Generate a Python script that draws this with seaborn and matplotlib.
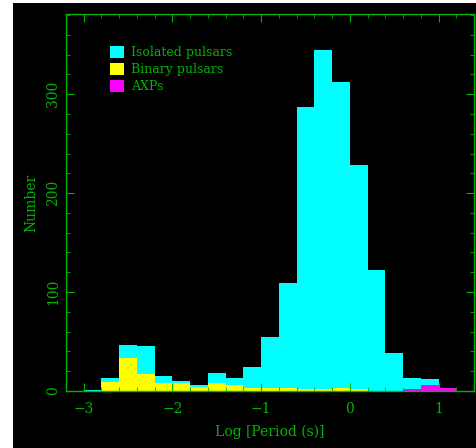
import pandas as pd
import matplotlib
matplotlib.use('Agg')
import matplotlib.pyplot as plt
import seaborn as sns
from matplotlib.patches import Patch, Rectangle
from matplotlib.ticker import MultipleLocator

# histogram counts, bins of 0.2 in log period
bin_edges = [-3.0, -2.8, -2.6, -2.4, -2.2, -2.0, -1.8, -1.6, -1.4, -1.2, -1.0,
             -0.8, -0.6, -0.4, -0.2, 0.0, 0.2, 0.4, 0.6, 0.8, 1.0, 1.2]
bin_centers = [-2.9, -2.7, -2.5, -2.3, -2.1, -1.9, -1.7, -1.5, -1.3, -1.1, -0.9,
               -0.7, -0.5, -0.3, -0.1, 0.1, 0.3, 0.5, 0.7, 0.9, 1.1]
isolated = [1, 4, 13, 28, 7, 2, 2, 10, 7, 21, 52,
            106, 285, 343, 309, 226, 122, 38, 11, 6, 0]
binary = [0, 9, 33, 17, 8, 8, 4, 8, 6, 3, 3,
          3, 2, 2, 3, 2, 0, 0, 0, 0, 0]
axps = [0, 0, 0, 0, 0, 0, 0, 0, 0, 0, 0,
        0, 0, 0, 0, 0, 0, 0, 2, 6, 3]

labels = ['Isolated pulsars', 'Binary pulsars', 'AXPs']
colors = {'Isolated pulsars': '#00ffff', 'Binary pulsars': '#ffff00', 'AXPs': '#ff00ff'}
green = '#00b400'

rows = []
for name, counts in zip(labels, [isolated, binary, axps]):
    for c, n in zip(bin_centers, counts):
        rows.append({'logP': c, 'count': n, 'type': name})
df = pd.DataFrame(rows)

plt.rcParams['font.family'] = ['DejaVu Serif']

fig = plt.figure(figsize=(4.77, 4.48), dpi=100, facecolor='white')
# black plotting page with a thin white margin on the left and top
fig.patches.append(Rectangle((13 / 477, 0), 1, 1 - 3 / 448, transform=fig.transFigure,
                             facecolor='black', edgecolor='none', zorder=-10))
ax = fig.add_axes([66 / 477, 57 / 448, 408 / 477, 377 / 448])
ax.set_facecolor('black')

sns.histplot(
    data=df, x='logP', weights='count', hue='type', hue_order=labels,
    bins=bin_edges, multiple='stack', element='bars', fill=True,
    palette=colors, alpha=1, linewidth=0, legend=False, ax=ax
)

ax.set_xlim(-3.2, 1.4)
ax.set_ylim(0, 381)
ax.xaxis.set_major_locator(MultipleLocator(1))
ax.xaxis.set_minor_locator(MultipleLocator(0.2))
ax.yaxis.set_major_locator(MultipleLocator(100))
ax.yaxis.set_minor_locator(MultipleLocator(20))

for s in ax.spines.values():
    s.set_color(green)
    s.set_linewidth(1.0)
ax.tick_params(which='both', direction='in', top=True, right=True, colors=green)
ax.tick_params(which='major', length=6, labelsize=10)
ax.tick_params(axis='x', which='major', pad=8)
ax.tick_params(axis='y', which='major', pad=4)
ax.tick_params(which='minor', length=3)
for lab in ax.get_yticklabels():
    lab.set_rotation(90)
    lab.set_va('center')

ax.set_xlabel('Log [Period (s)]', color=green, fontsize=10, labelpad=6)
ax.set_ylabel('Number', color=green, fontsize=10, labelpad=6)

handles = [Patch(facecolor=colors[n], edgecolor='none', label=n) for n in labels]
leg = ax.legend(handles=handles, loc='upper left', bbox_to_anchor=(0.08, 0.945),
                frameon=False, handlelength=1.1, handleheight=1.1,
                handletextpad=0.6, labelspacing=0.3, fontsize=9)
for t in leg.get_texts():
    t.set_color(green)

fig.savefig('out.png', dpi=100, facecolor=fig.get_facecolor())
